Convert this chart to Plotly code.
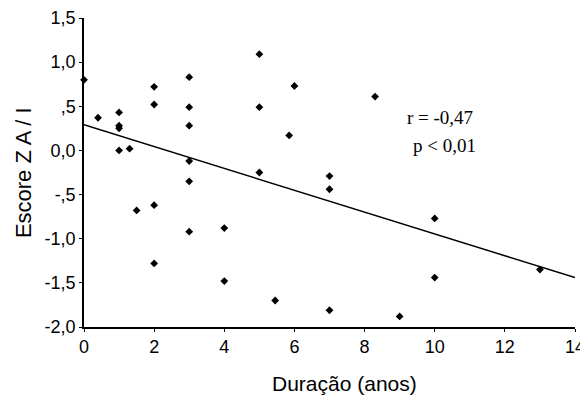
import plotly.graph_objects as go

duracao = [0, 0.4, 1, 1, 1, 1, 1.3, 1.5, 2, 2, 2, 2, 3, 3, 3, 3, 3, 3, 4, 4,
           5, 5, 5, 5.45, 5.85, 6, 7, 7, 7, 8.3, 9, 10, 10, 13]
escore = [0.80, 0.37, 0.43, 0.28, 0.25, 0.00, 0.02, -0.68, 0.72, 0.52, -0.62, -1.28,
          0.83, 0.49, 0.28, -0.12, -0.35, -0.92, -0.88, -1.48,
          1.09, 0.49, -0.25, -1.70, 0.17, 0.73, -0.29, -0.44, -1.81, 0.61, -1.88,
          -0.77, -1.44, -1.35]

fit_x = [0, 14]
fit_y = [0.29, -1.44]

x_ticks = [0, 2, 4, 6, 8, 10, 12, 14]
x_ticklabels = ["0", "2", "4", "6", "8", "10", "12", "14"]
y_ticks = [1.5, 1.0, 0.5, 0.0, -0.5, -1.0, -1.5, -2.0]
y_ticklabels = ["1,5", "1,0", ",5", "0,0", "-,5", "-1,0", "-1,5", "-2,0"]

stats_text = ["r = -0,47", "p < 0,01"]

fig = go.Figure()
fig.add_trace(go.Scatter(x=fit_x, y=fit_y, mode="lines",
                         line=dict(color="black", width=1.5), hoverinfo="skip"))
fig.add_trace(go.Scatter(x=duracao, y=escore, mode="markers",
                         marker=dict(symbol="diamond", size=6, color="black"),
                         cliponaxis=False))

fig.update_layout(
    width=580, height=390,
    margin=dict(l=76, r=13, t=10, b=71),
    paper_bgcolor="white", plot_bgcolor="white",
    showlegend=False,
    font=dict(family="Liberation Sans, Arial, sans-serif", color="black", size=16),
    xaxis=dict(range=[0, 14], tickvals=x_ticks, ticktext=x_ticklabels,
               showgrid=False, zeroline=False, showline=True, linecolor="black",
               linewidth=1.5, ticks="outside", ticklen=3, tickcolor="black",
               tickfont=dict(size=18), automargin=False, ticklabeloverflow="allow"),
    yaxis=dict(range=[-2.0, 1.5], tickvals=y_ticks, ticktext=y_ticklabels,
               showgrid=False, zeroline=False, showline=True, linecolor="black",
               linewidth=1.5, ticks="outside", ticklen=3, tickcolor="black",
               tickfont=dict(size=18), automargin=False, ticklabeloverflow="allow"),
    annotations=[
        dict(text="Duração (anos)", xref="paper", yref="paper", x=0.53, y=0,
             yshift=-56, showarrow=False, font=dict(size=21), yanchor="middle"),
        dict(text="Escore Z A / I", xref="paper", yref="paper", x=0, y=0.498,
             xshift=-61, showarrow=False, font=dict(size=22), textangle=-90,
             xanchor="center"),
        dict(text=stats_text[0], xref="paper", yref="paper", x=(475 - 84) / 491,
             y=(327 - 105) / 309, showarrow=False,
             font=dict(family="Liberation Serif, Times New Roman, serif", size=19)),
        dict(text=stats_text[1], xref="paper", yref="paper", x=(478 - 84) / 491,
             y=(327 - 145) / 309, showarrow=False,
             font=dict(family="Liberation Serif, Times New Roman, serif", size=19)),
    ],
)

fig.write_html("out.html")
